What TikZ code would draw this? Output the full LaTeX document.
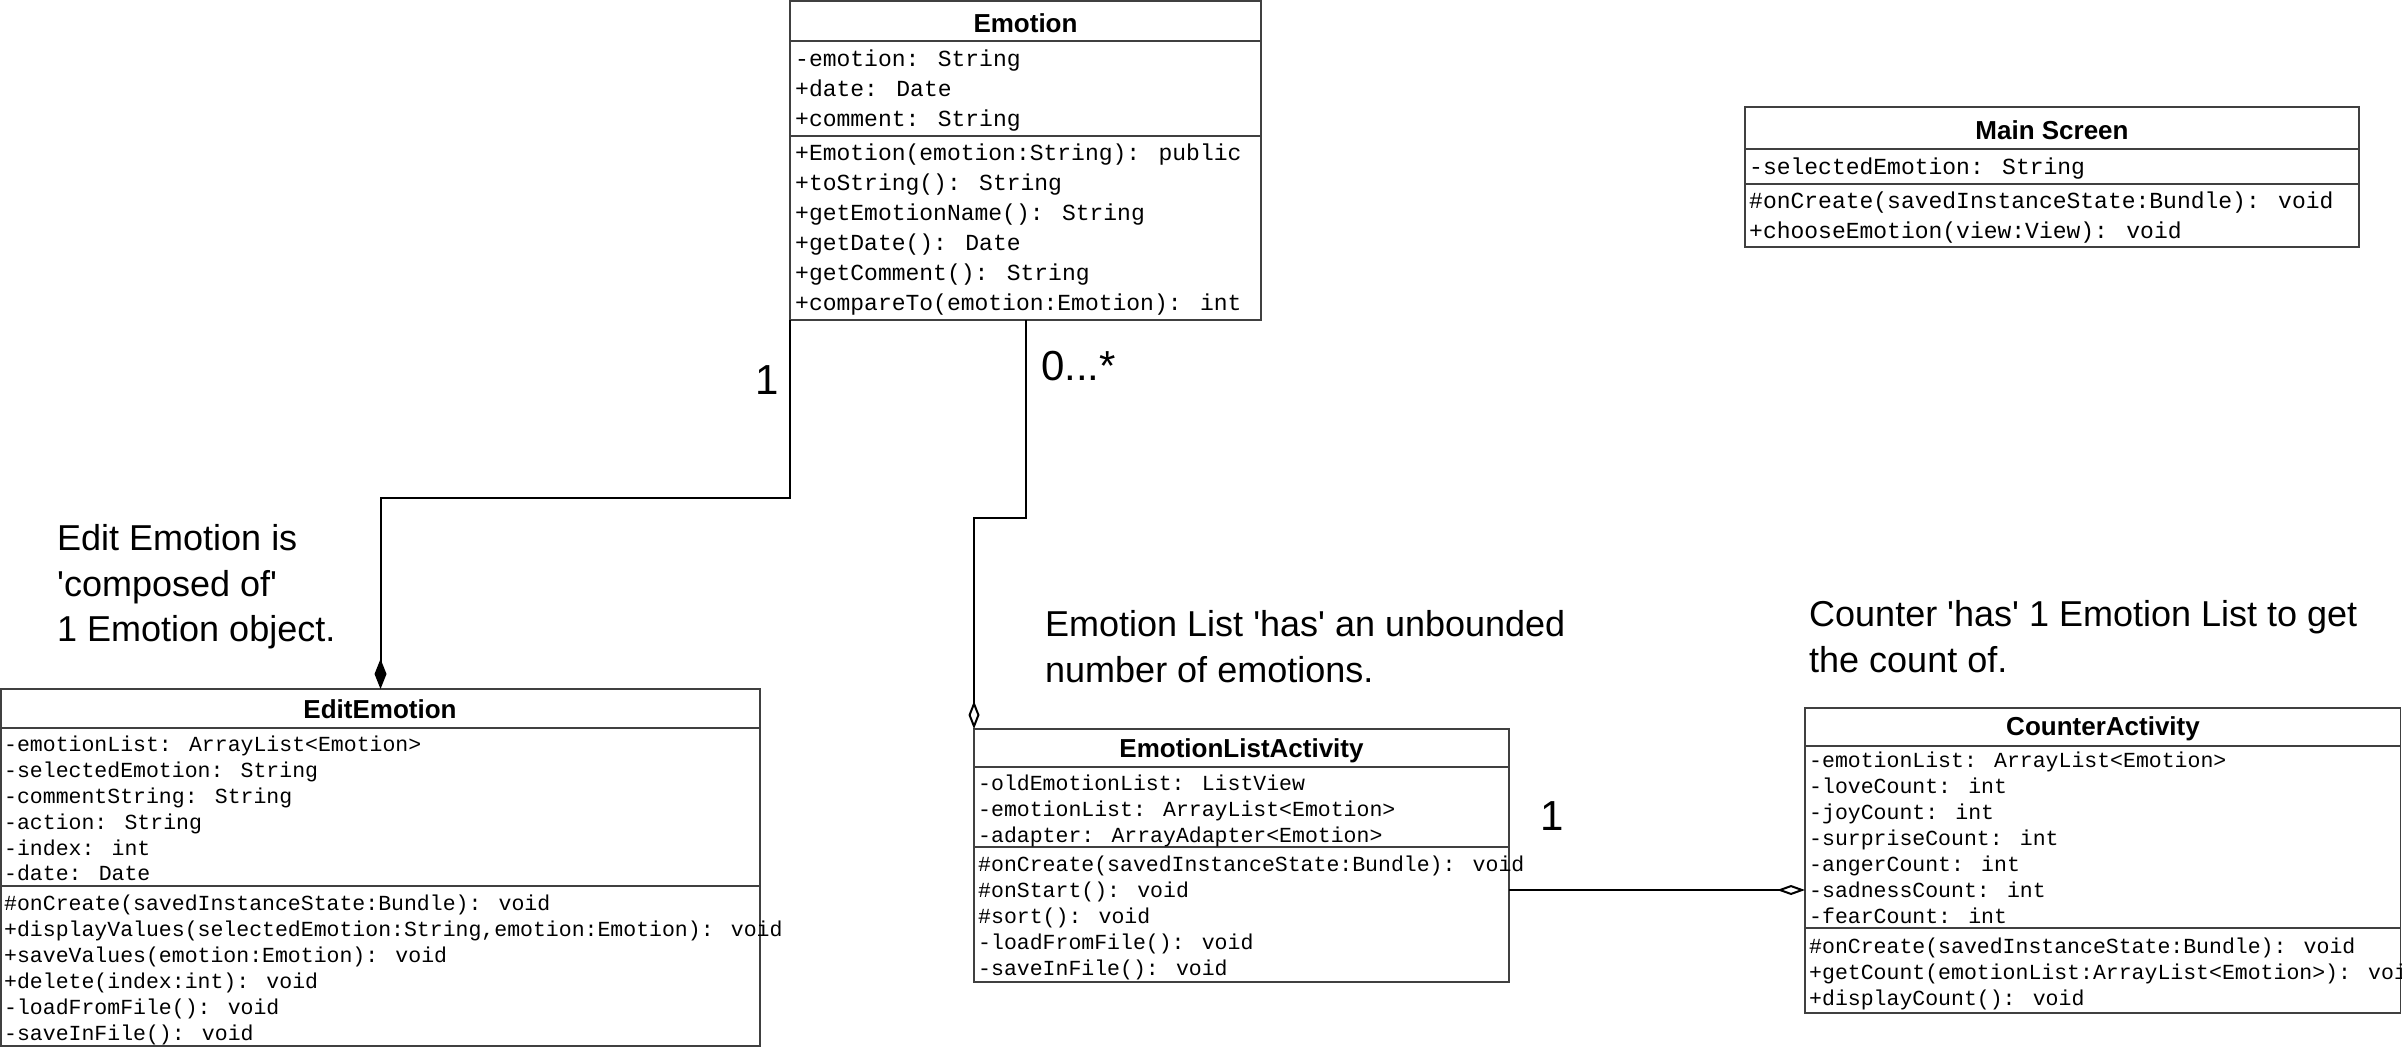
\documentclass[tikz,border=0pt]{standalone}
\usepackage{fontspec}
\setmainfont{Liberation Sans}
\newfontfamily\monofont{Liberation Mono}
\usetikzlibrary{arrows.meta}
\begin{document}
\begin{tikzpicture}[x=1pt,y=-1pt,
  cls/.style={draw=black!75, line width=1.2pt, rectangle, inner sep=0pt, outer sep=0pt, anchor=north west},
  sep/.style={draw=black!75, line width=1.2pt},
  ttl/.style={font=\bfseries\fontsize{26}{30}\selectfont, inner sep=0pt, anchor=center},
  memA/.style={font=\monofont\fontsize{23}{26}\selectfont, inner sep=0pt, anchor=west, text height=22pt, text depth=5pt},
  memB/.style={font=\monofont\fontsize{21.5}{26}\selectfont, inner sep=0pt, anchor=west, text height=21pt, text depth=5pt},
  conn/.style={draw=black, line width=2pt},
  mult/.style={font=\fontsize{42}{50}\selectfont, inner sep=0pt},
  note/.style={font=\fontsize{36}{46}\selectfont, inner sep=0pt, anchor=base west}
]
\useasboundingbox (0,0) rectangle (2402,1047);

% ---------- Emotion ----------
\node[cls, minimum width=471pt, minimum height=319pt] (emo) at (790,1) {};
\node[ttl] (emoT) at (1025.5,23) {Emotion};
\draw[sep] (emo.west |- 0,41) -- (emo.east |- 0,41);
\draw[sep] (emo.west |- 0,136) -- (emo.east |- 0,136);
\node[memA] (emo1) at (795,58) {-emotion: String};
\node[memA] (emo2) at (795,88) {+date: Date};
\node[memA] (emo3) at (795,118) {+comment: String};
\node[memA] (emo4) at (795,152) {+Emotion(emotion:String): public};
\node[memA] (emo5) at (795,182) {+toString(): String};
\node[memA] (emo6) at (795,212) {+getEmotionName(): String};
\node[memA] (emo7) at (795,242) {+getDate(): Date};
\node[memA] (emo8) at (795,272) {+getComment(): String};
\node[memA] (emo9) at (795,302) {+compareTo(emotion:Emotion): int};

% ---------- Main Screen ----------
\node[cls, minimum width=614pt, minimum height=140pt] (ms) at (1745,107) {};
\node[ttl] (msT) at (2052,130) {Main Screen};
\draw[sep] (ms.west |- 0,149) -- (ms.east |- 0,149);
\draw[sep] (ms.west |- 0,184) -- (ms.east |- 0,184);
\node[memA] (ms1) at (1749,166) {-selectedEmotion: String};
\node[memA] (ms2) at (1749,200) {\#onCreate(savedInstanceState:Bundle): void};
\node[memA] (ms3) at (1749,230) {+chooseEmotion(view:View): void};

% ---------- EditEmotion ----------
\node[cls, minimum width=759pt, minimum height=357pt] (edit) at (1,689) {};
\node[ttl] (editT) at (380,709) {EditEmotion};
\draw[sep] (edit.west |- 0,728) -- (edit.east |- 0,728);
\draw[sep] (edit.west |- 0,886) -- (edit.east |- 0,886);
\node[memB] (ed1) at (4,743) {-emotionList: ArrayList<Emotion>};
\node[memB] (ed2) at (4,769) {-selectedEmotion: String};
\node[memB] (ed3) at (4,795) {-commentString: String};
\node[memB] (ed4) at (4,821) {-action: String};
\node[memB] (ed5) at (4,847) {-index: int};
\node[memB] (ed6) at (4,872) {-date: Date};
\node[memB] (ed7) at (4,902) {\#onCreate(savedInstanceState:Bundle): void};
\node[memB] (ed8) at (4,928) {+displayValues(selectedEmotion:String,emotion:Emotion): void};
\node[memB] (ed9) at (4,954) {+saveValues(emotion:Emotion): void};
\node[memB] (ed10) at (4,980) {+delete(index:int): void};
\node[memB] (ed11) at (4,1006) {-loadFromFile(): void};
\node[memB] (ed12) at (4,1032) {-saveInFile(): void};

% ---------- EmotionListActivity ----------
\node[cls, minimum width=535pt, minimum height=253pt] (ela) at (974,729) {};
\node[ttl] (elaT) at (1241.5,751) {EmotionListActivity};
\draw[sep] (ela.west |- 0,767) -- (ela.east |- 0,767);
\draw[sep] (ela.west |- 0,847) -- (ela.east |- 0,847);
\node[memB] (el1) at (978,782) {-oldEmotionList: ListView};
\node[memB] (el2) at (978,808) {-emotionList: ArrayList<Emotion>};
\node[memB] (el3) at (978,834) {-adapter: ArrayAdapter<Emotion>};
\node[memB] (el4) at (978,863) {\#onCreate(savedInstanceState:Bundle): void};
\node[memB] (el5) at (978,889) {\#onStart(): void};
\node[memB] (el6) at (978,915) {\#sort(): void};
\node[memB] (el7) at (978,941) {-loadFromFile(): void};
\node[memB] (el8) at (978,967) {-saveInFile(): void};

% ---------- CounterActivity ----------
\node[cls, minimum width=595.5pt, minimum height=305pt] (ca) at (1805,708) {};
\node[ttl] (caT) at (2103,729) {CounterActivity};
\draw[sep] (ca.west |- 0,746) -- (ca.east |- 0,746);
\draw[sep] (ca.west |- 0,928) -- (ca.east |- 0,928);
\node[memB] (ca1) at (1809,759) {-emotionList: ArrayList<Emotion>};
\node[memB] (ca2) at (1809,785) {-loveCount: int};
\node[memB] (ca3) at (1809,811) {-joyCount: int};
\node[memB] (ca4) at (1809,837) {-surpriseCount: int};
\node[memB] (ca5) at (1809,863) {-angerCount: int};
\node[memB] (ca6) at (1809,889) {-sadnessCount: int};
\node[memB] (ca7) at (1809,915) {-fearCount: int};
\node[memB] (ca8) at (1809,945) {\#onCreate(savedInstanceState:Bundle): void};
\node[memB] (ca9) at (1809,971) {+getCount(emotionList:ArrayList<Emotion>): void};
\node[memB] (ca10) at (1809,997) {+displayCount(): void};

% ---------- connectors ----------
\draw[conn, -{Diamond[length=30pt,width=12pt]}] (emo.south west) -- ++(0,178) -| (edit.north);
\draw[conn, -{Diamond[open,length=28pt,width=11pt]}] (emo.south) -- ++(0,198) -| (ela.north west);
\coordinate (c3) at (1600,890);
\draw[conn, -{Diamond[open,length=28pt,width=10pt]}] (ela.east |- c3) -- (ca.west |- c3);

% ---------- multiplicities ----------
\node[mult, anchor=base] (m1) at (767,394) {1};
\node[mult, anchor=base west] (m2) at (1041,380) {0...*};
\node[mult, anchor=base] (m3) at (1552,830) {1};

% ---------- notes ----------
\node[note] (n1) at (57,550) {Edit Emotion is};
\node[note] (n2) at (57,596) {\textquotesingle composed of\textquotesingle};
\node[note] (n3) at (57,641) {1 Emotion object.};
\node[note] (n4) at (1045,636) {Emotion List \textquotesingle has\textquotesingle{} an unbounded};
\node[note] (n5) at (1045,682) {number of emotions.};
\node[note] (n6) at (1809,626) {Counter \textquotesingle has\textquotesingle{} 1 Emotion List to get};
\node[note] (n7) at (1809,672) {the count of.};
\end{tikzpicture}
\end{document}
